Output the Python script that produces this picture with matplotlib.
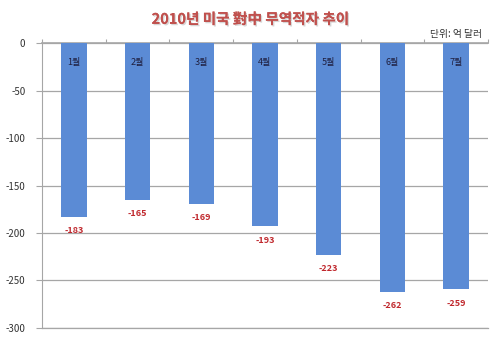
import matplotlib
matplotlib.use("Agg")
import matplotlib.pyplot as plt
import numpy as np
import matplotlib.patheffects as pe

plt.rcParams['font.family'] = ['Noto Sans CJK KR', 'DejaVu Sans']

months = ['1월', '2월', '3월', '4월', '5월', '6월', '7월']
values = [-183, -165, -169, -193, -223, -262, -259]
yticks = [0, -50, -100, -150, -200, -250, -300]
title = '2010년 미국 對中 무역적자 추이'
unit = '단위: 억 달러'

fig = plt.figure(figsize=(5, 3.42), dpi=100)
ax = fig.add_axes([0.084, 0.041, 0.892, 0.833])

x = np.arange(len(months))
ax.bar(x, values, width=0.4, color='#5B8BD5', zorder=3)
ax.set_xlim(-0.5, len(months) - 0.5)
ax.set_ylim(-300, 0)
ax.set_yticks(yticks)
ax.set_yticklabels([str(v) for v in yticks], fontsize=7, color='#333333')
ax.yaxis.grid(True, color='#A6A6A6', linewidth=0.9, zorder=0)

ax.spines['right'].set_visible(False)
ax.spines['bottom'].set_color('#A6A6A6')
ax.spines['bottom'].set_linewidth(0.9)
ax.spines['left'].set_color('#A6A6A6')
ax.spines['top'].set_color('#A6A6A6')
ax.spines['top'].set_linewidth(1.2)
ax.tick_params(axis='y', length=4, color='#A6A6A6', pad=8)
ax.xaxis.tick_top()
ax.set_xticks(np.arange(-0.5, len(months), 1.0))
ax.set_xticklabels([])
ax.tick_params(axis='x', length=3, color='#A6A6A6', direction='out')

for xi, (m, v) in enumerate(zip(months, values)):
    ax.text(xi, -20, m, ha='center', va='center', fontsize=6.5, color='#1F1F3F', zorder=4)
    ax.text(xi, v - 10, str(v), ha='center', va='top', fontsize=6.5, color='#C0282D',
            fontweight='semibold', zorder=4)

fig.text(0.5, 0.945, title, ha='center', va='center', fontsize=10.5, fontweight='bold',
         color='#C0504D',
         path_effects=[pe.withSimplePatchShadow(offset=(1, -1), shadow_rgbFace='#BBBBBB', alpha=0.6),
                       pe.Normal()])
fig.text(0.965, 0.902, unit, ha='right', va='center', fontsize=7, color='#333333')

fig.savefig('out.png', dpi=100)
